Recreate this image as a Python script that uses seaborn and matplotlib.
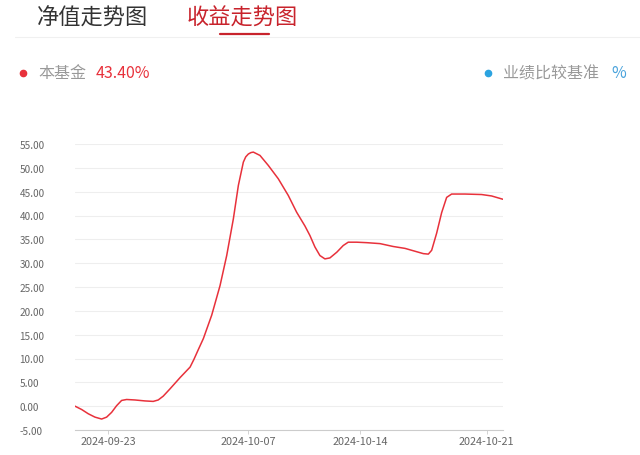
import pandas as pd
import seaborn as sns
import matplotlib.pyplot as plt
from matplotlib.lines import Line2D

# positions along the x axis (trading-day units) and fund return (%)
pos = [0.00, 0.28, 0.56, 0.84, 1.12, 1.33, 1.54, 1.75, 1.96, 2.17, 2.52, 2.94, 3.29,
       3.50, 3.71, 3.99, 4.42, 4.84, 5.00, 5.18, 5.40, 5.75, 6.10, 6.38, 6.66, 6.87,
       7.08, 7.18, 7.29, 7.40, 7.50, 7.78, 8.13, 8.55, 8.97, 9.32, 9.67, 9.88, 10.09,
       10.30, 10.51, 10.72, 11.01, 11.28, 11.49, 11.85, 12.27, 12.83, 13.38, 13.88,
       14.30, 14.65, 14.86, 15.00, 15.21, 15.42, 15.63, 15.84, 16.40, 17.10, 17.52, 18.00]
fund = [0.0, -0.7, -1.6, -2.3, -2.7, -2.3, -1.3, 0.1, 1.2, 1.4, 1.3, 1.1, 1.0,
        1.3, 2.1, 3.6, 6.0, 8.2, 9.8, 11.8, 14.2, 19.1, 25.3, 31.6, 39.3, 46.3,
        51.2, 52.3, 52.9, 53.2, 53.3, 52.6, 50.5, 47.7, 44.2, 40.7, 37.8, 35.8, 33.4,
        31.6, 30.9, 31.1, 32.3, 33.7, 34.4, 34.4, 34.3, 34.1, 33.5, 33.1,
        32.5, 32.0, 31.9, 32.7, 36.3, 40.6, 43.8, 44.5, 44.5, 44.4, 44.1, 43.4]

tick_pos = [1.40, 7.29, 11.98, 17.31]
tick_labels = ['2024-09-23', '2024-10-07', '2024-10-14', '2024-10-21']
y_ticks = [-5, 0, 5, 10, 15, 20, 25, 30, 35, 40, 45, 50, 55]

df = pd.DataFrame({'pos': pos, 'fund': fund})

sns.set_style('white')
plt.rcParams['font.family'] = ['Noto Sans CJK SC', 'DejaVu Sans']

W, H = 640, 456
fig = plt.figure(figsize=(6.4, 4.56), dpi=100)
ax = fig.add_axes([75 / W, 1 - 431 / H, 428 / W, 286 / H])

red = '#e8313b'
sns.lineplot(data=df, x='pos', y='fund', ax=ax, color=red, linewidth=1.1)
for ln in ax.get_lines():
    ln.set_solid_joinstyle('round')
    ln.set_solid_capstyle('round')

ax.set_xlim(0, 18)
ax.set_ylim(-5, 55)
ax.set_yticks(y_ticks)
ax.set_yticklabels(['%.2f' % v for v in y_ticks], color='#666666', fontsize=7.2)
for lab in ax.get_yticklabels():
    lab.set_horizontalalignment('left')
ax.tick_params(axis='y', length=0, pad=40)
ax.set_xticks(tick_pos)
ax.set_xticklabels(tick_labels, color='#666666', fontsize=7.8)
ax.tick_params(axis='x', length=3, width=0.6, color='#cccccc', pad=1.5, bottom=True)
ax.grid(axis='y', color='#eeeeee', linewidth=0.8)
ax.set_axisbelow(True)
for s in ['top', 'right', 'left']:
    ax.spines[s].set_visible(False)
ax.spines['bottom'].set_color('#cccccc')
ax.spines['bottom'].set_linewidth(0.8)
ax.set_xlabel('')
ax.set_ylabel('')


def fx(px):
    return px / W


def fy(py):
    return 1 - py / H


# tab header
fig.text(fx(37), fy(18), '净值走势图', fontsize=16, color='#333333', va='center')
fig.text(fx(187), fy(18), '收益走势图', fontsize=16, color='#c8232c', va='center')
fig.add_artist(Line2D([fx(15), fx(640)], [fy(38), fy(38)], color='#f0f0f0', lw=0.8,
                      transform=fig.transFigure))
fig.add_artist(Line2D([fx(220), fx(269)], [fy(34.5), fy(34.5)], color='#c8232c', lw=1.6,
                      transform=fig.transFigure))

# legend row
fig.add_artist(Line2D([fx(23)], [fy(74)], marker='o', ms=4.5, color='#e8313b',
                      transform=fig.transFigure))
fig.text(fx(38), fy(74), '本基金', fontsize=11.5, color='#999999', va='center')
fig.text(fx(96), fy(74), '43.40%', fontsize=11.5, color=red, va='center')
fig.add_artist(Line2D([fx(488)], [fy(74)], marker='o', ms=4.5, color='#2ba3e0',
                      transform=fig.transFigure))
fig.text(fx(503), fy(74), '业绩比较基准', fontsize=11.5, color='#999999', va='center')
fig.text(fx(611), fy(74), '%', fontsize=11.5, color='#4aa3dc', va='center')

fig.savefig('out.png', dpi=100)
